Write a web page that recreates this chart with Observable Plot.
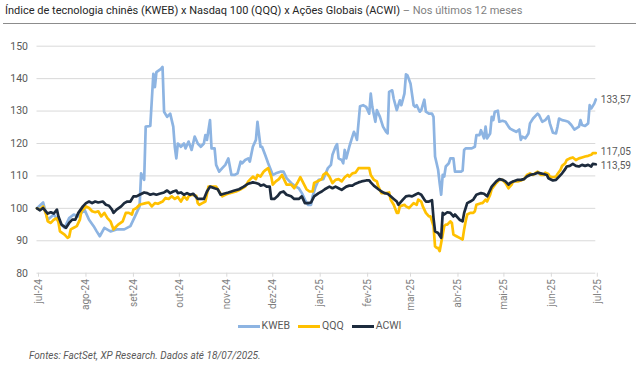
<!DOCTYPE html>
<html><head><meta charset="utf-8">
<script src="https://cdn.jsdelivr.net/npm/d3@7"></script>
<script src="https://cdn.jsdelivr.net/npm/@observablehq/plot@0.6"></script>
<style>
body{margin:0;background:#fff;font-family:Roboto,sans-serif;}
#wrap{position:relative;width:639px;height:376px;overflow:hidden;background:#fff;}
#title{position:absolute;left:5px;top:3px;font-size:11px;line-height:16px;color:#262626;white-space:nowrap;}
#title span{color:#7f7f7f}
#rule{position:absolute;left:3px;top:23px;width:633px;height:1px;background:#8c8c8c;}
#chart{position:absolute;left:0;top:24px;}
#legend{position:absolute;top:319px;left:0;width:639px;display:flex;justify-content:center;align-items:center;font-size:10.5px;line-height:14px;color:#595959;}
#legend .item{display:flex;align-items:center;margin:0 4px;}
#legend .sw{display:inline-block;width:22px;height:3px;margin-right:2px;}
#caption{position:absolute;left:29px;top:350px;font-size:10px;line-height:12px;font-style:italic;color:#595959;white-space:nowrap;}
</style></head>
<body>
<div id="wrap">
  <div id="title">Índice de tecnologia chinês (KWEB) x Nasdaq 100 (QQQ) x Ações Globais (ACWI)<span> – Nos últimos 12 meses</span></div>
  <div id="rule"></div>
  <div id="chart"></div>
  <div id="legend"></div>
  <div id="caption">Fontes: FactSet, XP Research. Dados até 18/07/2025.</div>
</div>
<script>
const seriesNames = ["KWEB", "QQQ", "ACWI"];
const seriesColors = ["#8db4e2", "#ffc000", "#1d2b3d"];

const kweb = [["2024-07-18",100.0],["2024-07-22",101.8],["2024-07-25",96.5],["2024-07-29",98.1],["2024-08-01",96.0],["2024-08-05",94.0],["2024-08-08",97.0],["2024-08-11",98.1],["2024-08-14",97.5],["2024-08-18",99.6],["2024-08-21",96.5],["2024-08-24",94.5],["2024-08-26",92.9],["2024-08-28",91.4],["2024-08-31",94.0],["2024-09-04",92.9],["2024-09-08",93.5],["2024-09-13",93.5],["2024-09-17",94.5],["2024-09-20",97.5],["2024-09-23",100.6],["2024-09-24",110.8],["2024-09-26",108.8],["2024-09-27",125.2],["2024-09-30",125.4],["2024-10-02",141.5],["2024-10-03",137.4],["2024-10-04",142.0],["2024-10-07",143.0],["2024-10-08",143.6],["2024-10-09",129.8],["2024-10-11",128.2],["2024-10-13",129.2],["2024-10-15",125.2],["2024-10-16",119.0],["2024-10-17",115.4],["2024-10-18",120.0],["2024-10-20",119.0],["2024-10-22",120.0],["2024-10-23",118.5],["2024-10-25",120.6],["2024-10-27",118.0],["2024-10-29",122.1],["2024-10-31",120.0],["2024-11-02",119.0],["2024-11-04",120.0],["2024-11-05",122.6],["2024-11-06",121.1],["2024-11-08",127.2],["2024-11-09",118.5],["2024-11-11",118.5],["2024-11-12",113.4],["2024-11-14",111.3],["2024-11-16",112.4],["2024-11-18",113.4],["2024-11-20",115.4],["2024-11-22",110.3],["2024-11-24",110.3],["2024-11-26",110.8],["2024-11-28",114.4],["2024-11-29",113.9],["2024-12-01",114.9],["2024-12-03",115.4],["2024-12-04",114.4],["2024-12-06",119.0],["2024-12-08",121.1],["2024-12-09",126.7],["2024-12-11",119.0],["2024-12-12",119.0],["2024-12-14",116.5],["2024-12-16",113.9],["2024-12-19",110.3],["2024-12-21",110.8],["2024-12-24",111.3],["2024-12-26",111.3],["2024-12-28",109.3],["2024-12-31",107.8],["2025-01-03",106.7],["2025-01-05",106.2],["2025-01-07",104.7],["2025-01-09",102.7],["2025-01-11",101.1],["2025-01-13",101.1],["2025-01-14",103.7],["2025-01-16",106.7],["2025-01-18",108.8],["2025-01-21",109.0],["2025-01-24",112.4],["2025-01-26",113.4],["2025-01-27",116.5],["2025-01-29",119.0],["2025-01-30",119.8],["2025-01-31",115.4],["2025-02-02",114.9],["2025-02-03",113.9],["2025-02-04",118.0],["2025-02-05",115.4],["2025-02-07",119.0],["2025-02-08",120.6],["2025-02-09",122.1],["2025-02-10",123.6],["2025-02-11",122.6],["2025-02-12",121.1],["2025-02-14",131.5],["2025-02-16",131.8],["2025-02-18",131.3],["2025-02-20",129.2],["2025-02-21",135.4],["2025-02-22",131.3],["2025-02-24",126.7],["2025-02-25",130.3],["2025-02-27",128.2],["2025-03-01",125.2],["2025-03-03",123.6],["2025-03-04",123.1],["2025-03-05",135.9],["2025-03-07",136.4],["2025-03-08",133.8],["2025-03-10",130.3],["2025-03-12",133.3],["2025-03-13",131.8],["2025-03-15",135.4],["2025-03-16",141.3],["2025-03-17",141.0],["2025-03-19",138.4],["2025-03-21",131.8],["2025-03-22",131.3],["2025-03-23",131.8],["2025-03-25",129.8],["2025-03-26",130.3],["2025-03-28",133.5],["2025-03-29",129.8],["2025-03-31",129.2],["2025-04-02",129.2],["2025-04-03",128.2],["2025-04-04",116.0],["2025-04-06",111.9],["2025-04-07",107.8],["2025-04-08",104.2],["2025-04-09",110.3],["2025-04-10",109.8],["2025-04-11",112.9],["2025-04-13",113.9],["2025-04-14",115.4],["2025-04-16",115.4],["2025-04-17",111.3],["2025-04-18",111.3],["2025-04-21",111.3],["2025-04-22",111.6],["2025-04-23",118.0],["2025-04-24",118.5],["2025-04-26",118.5],["2025-04-28",118.5],["2025-04-30",119.0],["2025-05-01",122.6],["2025-05-03",122.6],["2025-05-04",124.1],["2025-05-06",121.6],["2025-05-07",125.2],["2025-05-08",121.6],["2025-05-10",123.1],["2025-05-11",128.2],["2025-05-12",127.2],["2025-05-13",129.8],["2025-05-15",130.1],["2025-05-16",126.7],["2025-05-18",127.0],["2025-05-20",126.7],["2025-05-22",125.2],["2025-05-23",124.6],["2025-05-25",124.1],["2025-05-27",123.6],["2025-05-29",124.3],["2025-05-30",121.1],["2025-05-31",122.1],["2025-06-02",121.6],["2025-06-04",123.1],["2025-06-05",126.2],["2025-06-07",127.7],["2025-06-10",129.2],["2025-06-11",128.7],["2025-06-13",126.7],["2025-06-15",127.2],["2025-06-17",128.4],["2025-06-18",126.2],["2025-06-20",123.3],["2025-06-22",123.1],["2025-06-23",125.2],["2025-06-24",127.7],["2025-06-26",127.2],["2025-06-28",127.0],["2025-06-30",126.7],["2025-07-02",125.7],["2025-07-04",124.3],["2025-07-05",124.6],["2025-07-07",125.2],["2025-07-08",127.2],["2025-07-09",125.7],["2025-07-11",125.4],["2025-07-13",126.2],["2025-07-14",131.8],["2025-07-15",130.8],["2025-07-17",132.3],["2025-07-18",133.57]];

const qqq = [["2024-07-18",100.0],["2024-07-20",99.6],["2024-07-22",100.6],["2024-07-24",98.1],["2024-07-25",96.0],["2024-07-27",95.5],["2024-07-29",96.5],["2024-07-31",97.0],["2024-08-01",95.7],["2024-08-02",92.9],["2024-08-05",91.9],["2024-08-07",90.9],["2024-08-08",91.2],["2024-08-09",93.5],["2024-08-11",94.0],["2024-08-13",94.5],["2024-08-15",96.5],["2024-08-16",99.1],["2024-08-19",100.6],["2024-08-21",100.1],["2024-08-23",99.1],["2024-08-25",98.8],["2024-08-27",99.1],["2024-08-29",97.5],["2024-08-31",98.6],["2024-09-02",97.0],["2024-09-04",96.0],["2024-09-06",93.5],["2024-09-07",94.0],["2024-09-09",95.0],["2024-09-12",96.0],["2024-09-14",98.6],["2024-09-16",98.6],["2024-09-18",98.1],["2024-09-19",99.6],["2024-09-21",100.1],["2024-09-23",101.1],["2024-09-27",101.6],["2024-09-29",101.8],["2024-10-01",100.6],["2024-10-03",101.6],["2024-10-05",101.4],["2024-10-08",102.1],["2024-10-10",103.2],["2024-10-12",102.9],["2024-10-14",103.7],["2024-10-16",102.9],["2024-10-18",103.5],["2024-10-20",102.1],["2024-10-22",103.7],["2024-10-24",102.7],["2024-10-25",103.7],["2024-10-27",104.2],["2024-10-30",103.9],["2024-10-31",101.6],["2024-11-01",101.1],["2024-11-03",101.6],["2024-11-05",102.1],["2024-11-07",106.7],["2024-11-09",106.7],["2024-11-12",106.7],["2024-11-14",105.2],["2024-11-16",103.7],["2024-11-18",104.2],["2024-11-21",104.7],["2024-11-25",105.2],["2024-11-28",105.9],["2024-12-01",106.7],["2024-12-03",108.3],["2024-12-06",109.8],["2024-12-08",109.0],["2024-12-09",110.3],["2024-12-11",109.8],["2024-12-13",111.3],["2024-12-14",111.7],["2024-12-16",112.4],["2024-12-18",109.8],["2024-12-19",107.3],["2024-12-21",108.3],["2024-12-23",109.0],["2024-12-25",110.3],["2024-12-26",109.3],["2024-12-28",107.3],["2024-12-31",107.3],["2025-01-02",106.2],["2025-01-04",107.8],["2025-01-06",109.6],["2025-01-08",107.8],["2025-01-10",105.9],["2025-01-12",105.2],["2025-01-14",105.2],["2025-01-15",107.8],["2025-01-17",108.3],["2025-01-20",109.0],["2025-01-21",110.3],["2025-01-23",111.0],["2025-01-25",109.8],["2025-01-27",107.8],["2025-01-29",108.8],["2025-01-31",109.0],["2025-02-02",108.3],["2025-02-04",109.6],["2025-02-06",110.3],["2025-02-07",109.8],["2025-02-09",110.8],["2025-02-11",111.0],["2025-02-13",112.4],["2025-02-15",112.4],["2025-02-18",112.4],["2025-02-20",112.4],["2025-02-21",110.3],["2025-02-23",108.8],["2025-02-25",108.3],["2025-02-26",106.7],["2025-02-28",104.7],["2025-03-03",104.7],["2025-03-05",104.9],["2025-03-06",102.7],["2025-03-08",101.1],["2025-03-10",98.6],["2025-03-11",98.6],["2025-03-12",100.6],["2025-03-15",101.1],["2025-03-16",100.6],["2025-03-18",100.1],["2025-03-19",100.6],["2025-03-21",101.6],["2025-03-23",101.1],["2025-03-24",102.7],["2025-03-26",102.1],["2025-03-27",100.6],["2025-03-29",98.6],["2025-03-31",97.5],["2025-04-01",97.5],["2025-04-03",94.5],["2025-04-04",88.3],["2025-04-05",87.8],["2025-04-06",87.8],["2025-04-07",86.8],["2025-04-09",91.9],["2025-04-10",94.5],["2025-04-11",95.0],["2025-04-12",95.0],["2025-04-14",96.0],["2025-04-15",95.5],["2025-04-16",91.9],["2025-04-18",91.4],["2025-04-20",90.9],["2025-04-22",90.4],["2025-04-23",93.5],["2025-04-24",96.0],["2025-04-25",98.1],["2025-04-27",98.6],["2025-04-29",98.6],["2025-04-30",99.1],["2025-05-01",101.1],["2025-05-04",101.6],["2025-05-05",101.6],["2025-05-07",102.7],["2025-05-08",102.1],["2025-05-10",104.2],["2025-05-11",105.9],["2025-05-14",107.8],["2025-05-16",108.8],["2025-05-18",108.8],["2025-05-20",107.8],["2025-05-22",106.2],["2025-05-24",107.3],["2025-05-25",108.3],["2025-05-28",108.3],["2025-05-30",108.6],["2025-06-01",109.0],["2025-06-02",109.6],["2025-06-03",110.3],["2025-06-05",110.8],["2025-06-07",110.3],["2025-06-09",111.0],["2025-06-10",111.3],["2025-06-12",110.3],["2025-06-14",110.3],["2025-06-15",111.0],["2025-06-17",110.6],["2025-06-18",109.8],["2025-06-20",109.6],["2025-06-22",109.8],["2025-06-23",110.6],["2025-06-25",111.9],["2025-06-26",113.1],["2025-06-28",113.9],["2025-06-29",114.9],["2025-07-01",115.4],["2025-07-03",115.7],["2025-07-05",114.9],["2025-07-07",115.4],["2025-07-09",115.7],["2025-07-11",116.0],["2025-07-13",116.2],["2025-07-15",116.5],["2025-07-16",117.0],["2025-07-18",117.05]];

const acwi = [["2024-07-18",100.0],["2024-07-20",99.4],["2024-07-22",100.1],["2024-07-25",98.4],["2024-07-27",98.8],["2024-07-29",98.4],["2024-07-31",99.6],["2024-08-01",97.5],["2024-08-03",95.0],["2024-08-06",94.0],["2024-08-08",95.5],["2024-08-10",96.5],["2024-08-12",96.5],["2024-08-14",98.6],["2024-08-17",100.6],["2024-08-19",101.6],["2024-08-21",102.1],["2024-08-23",101.6],["2024-08-25",102.1],["2024-08-27",101.8],["2024-08-30",102.1],["2024-09-01",101.1],["2024-09-03",100.8],["2024-09-05",99.6],["2024-09-06",98.6],["2024-09-08",99.6],["2024-09-11",100.6],["2024-09-13",101.6],["2024-09-15",102.1],["2024-09-17",102.1],["2024-09-19",103.7],["2024-09-21",103.7],["2024-09-23",104.2],["2024-09-26",104.9],["2024-09-28",104.7],["2024-09-30",104.2],["2024-10-02",104.5],["2024-10-04",104.2],["2024-10-06",104.5],["2024-10-09",104.9],["2024-10-11",105.5],["2024-10-13",104.7],["2024-10-15",105.2],["2024-10-17",105.5],["2024-10-18",104.7],["2024-10-20",104.9],["2024-10-22",104.2],["2024-10-24",104.7],["2024-10-26",104.2],["2024-10-28",104.5],["2024-10-31",102.9],["2024-11-02",102.9],["2024-11-04",102.9],["2024-11-06",105.2],["2024-11-08",106.7],["2024-11-11",106.2],["2024-11-13",105.9],["2024-11-15",104.2],["2024-11-17",104.5],["2024-11-20",104.9],["2024-11-24",105.5],["2024-11-27",105.9],["2024-11-30",106.7],["2024-12-03",107.6],["2024-12-06",108.0],["2024-12-08",107.8],["2024-12-10",107.5],["2024-12-11",107.0],["2024-12-13",107.3],["2024-12-15",106.7],["2024-12-17",106.7],["2024-12-18",102.9],["2024-12-20",102.9],["2024-12-22",103.7],["2024-12-24",104.9],["2024-12-26",105.2],["2024-12-28",104.2],["2024-12-31",103.7],["2025-01-02",102.9],["2025-01-05",102.9],["2025-01-07",103.7],["2025-01-09",101.6],["2025-01-11",101.6],["2025-01-13",101.8],["2025-01-15",103.7],["2025-01-18",104.7],["2025-01-20",105.2],["2025-01-22",105.9],["2025-01-25",106.7],["2025-01-27",106.2],["2025-01-29",106.7],["2025-01-31",106.2],["2025-02-02",105.7],["2025-02-05",106.7],["2025-02-07",107.0],["2025-02-09",107.0],["2025-02-11",107.6],["2025-02-13",108.0],["2025-02-15",108.3],["2025-02-18",108.6],["2025-02-20",108.6],["2025-02-21",108.0],["2025-02-23",107.0],["2025-02-26",105.9],["2025-02-28",105.2],["2025-03-02",104.7],["2025-03-04",104.5],["2025-03-06",103.7],["2025-03-08",102.9],["2025-03-10",102.1],["2025-03-11",101.1],["2025-03-14",102.7],["2025-03-16",103.7],["2025-03-18",103.9],["2025-03-20",103.7],["2025-03-22",104.2],["2025-03-24",104.7],["2025-03-26",104.2],["2025-03-28",102.7],["2025-03-29",102.1],["2025-03-31",102.1],["2025-04-02",102.5],["2025-04-03",97.0],["2025-04-04",92.9],["2025-04-06",92.4],["2025-04-08",90.9],["2025-04-09",98.6],["2025-04-10",98.1],["2025-04-12",98.8],["2025-04-14",98.6],["2025-04-16",97.5],["2025-04-17",98.1],["2025-04-20",96.5],["2025-04-22",96.0],["2025-04-23",98.6],["2025-04-25",101.6],["2025-04-27",102.1],["2025-04-29",102.7],["2025-05-01",104.2],["2025-05-04",104.7],["2025-05-06",104.5],["2025-05-08",103.7],["2025-05-09",104.7],["2025-05-11",106.7],["2025-05-14",108.3],["2025-05-16",109.0],["2025-05-18",108.8],["2025-05-20",108.3],["2025-05-22",107.3],["2025-05-23",107.8],["2025-05-25",108.3],["2025-05-28",108.8],["2025-05-30",108.8],["2025-06-01",109.0],["2025-06-03",109.8],["2025-06-05",110.3],["2025-06-08",110.6],["2025-06-10",111.0],["2025-06-12",110.8],["2025-06-14",110.6],["2025-06-16",110.3],["2025-06-17",109.3],["2025-06-20",108.6],["2025-06-22",108.8],["2025-06-24",109.8],["2025-06-26",110.8],["2025-06-28",112.1],["2025-06-29",112.9],["2025-07-01",113.1],["2025-07-03",113.7],["2025-07-05",113.1],["2025-07-07",112.9],["2025-07-09",113.4],["2025-07-11",113.1],["2025-07-13",113.4],["2025-07-15",112.9],["2025-07-16",113.7],["2025-07-18",113.59]];

const yTicks = [80, 90, 100, 110, 120, 130, 140, 150];
const xTickDates = ["2024-07-18","2024-08-18","2024-09-18","2024-10-18","2024-11-18","2024-12-18","2025-01-18","2025-02-18","2025-03-18","2025-04-18","2025-05-18","2025-06-18","2025-07-18"];
const xTickLabels = ["jul-24","ago-24","set-24","out-24","nov-24","dez-24","jan-25","fev-25","mar-25","abr-25","mai-25","jun-25","jul-25"];
const endLabelShift = [0, -1.5, 1.5];

const parse = d3.utcParse("%Y-%m-%d");
const seriesData = [kweb, qqq, acwi];
const data = seriesData.flatMap((arr, i) => arr.map(([d, v]) => ({series: seriesNames[i], date: parse(d), value: v})));
const lastPoints = seriesData.map((arr, i) => {
  const [d, v] = arr[arr.length - 1];
  return {series: seriesNames[i], date: parse(d), value: v, label: v.toFixed(2).replace(".", ",")};
});
const tickDates = xTickDates.map(parse);
const colorOf = Object.fromEntries(seriesNames.map((n, i) => [n, seriesColors[i]]));

const chart = Plot.plot({
  width: 639,
  height: 290,
  marginTop: 21.7,
  marginBottom: 41.3,
  marginLeft: 36.5,
  marginRight: 43.7,
  style: {fontFamily: "Roboto, sans-serif", fontSize: "10px", color: "#595959", background: "transparent"},
  x: {type: "utc", domain: [tickDates[0], tickDates[tickDates.length - 1]]},
  y: {domain: [80, 150]},
  marks: [
    Plot.ruleY(yTicks, {stroke: "#d9d9d9", strokeWidth: 1}),
    Plot.axisY({ticks: yTicks, tickSize: 0, tickPadding: 9, fill: "#595959", fontSize: 10.5, label: null}),
    Plot.axisX({ticks: tickDates, tickFormat: d => xTickLabels[tickDates.findIndex(t => +t === +d)], tickRotate: -90, tickSize: 4, tickPadding: 2, stroke: "#d9d9d9", fill: "#7f7f7f", fontSize: 10, dx: 1.5, label: null}),
    Plot.lineY(data, {x: "date", y: "value", z: "series", stroke: d => colorOf[d.series], strokeWidth: 2.7, strokeLinejoin: "round"}),
    ...lastPoints.map((p, i) => Plot.text([p], {x: "date", y: "value", text: "label", textAnchor: "start", dx: 5, dy: endLabelShift[i], fill: "#595959", fontSize: 10}))
  ]
});
document.getElementById("chart").appendChild(chart);

const legend = document.getElementById("legend");
seriesNames.forEach((n, i) => {
  const item = document.createElement("div");
  item.className = "item";
  const sw = document.createElement("span");
  sw.className = "sw";
  sw.style.background = seriesColors[i];
  const lab = document.createElement("span");
  lab.textContent = n;
  item.appendChild(sw);
  item.appendChild(lab);
  legend.appendChild(item);
});
</script>
</body></html>
